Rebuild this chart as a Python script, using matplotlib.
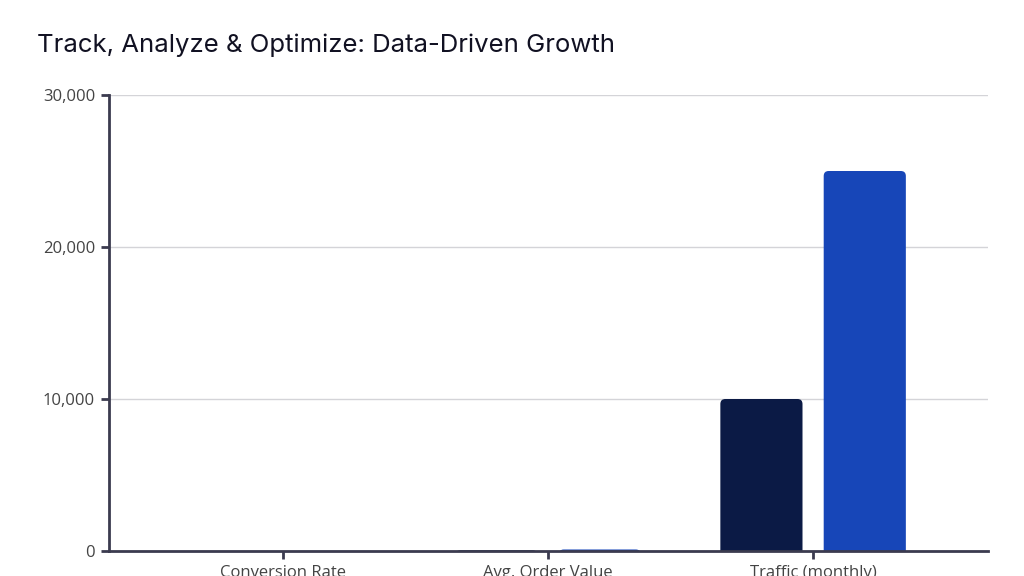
import matplotlib
matplotlib.use("Agg")
import matplotlib.pyplot as plt
from matplotlib.patches import FancyBboxPatch
from matplotlib.ticker import FuncFormatter
import numpy as np

categories = ["Conversion Rate", "Avg. Order Value", "Traffic (monthly)"]
baseline = [2.5, 50, 10000]
optimized = [3.5, 100, 25000]
series_colors = ["#0b1a45", "#1746b8"]

fig = plt.figure(figsize=(10.24, 5.76), dpi=100)
ax = fig.add_axes([109 / 1024, 1 - 551 / 576, 879 / 1024, 456 / 576])

x = np.arange(len(categories))
width = 0.31
offset = 0.195
ymax = 30000
xlim = (-0.657, 2.66)

ax.set_xlim(*xlim)
ax.set_ylim(0, ymax)

# rounded corners: radius in pixels converted to data units
px_x = (xlim[1] - xlim[0]) / 879
px_y = ymax / 456
r = 5
for vals, col, sign in [(baseline, series_colors[0], -1), (optimized, series_colors[1], 1)]:
    bars = ax.bar(x + sign * offset, vals, width=width, color=col, zorder=3)
    for b in bars:
        b.set_visible(False)
        h = b.get_height()
        box = FancyBboxPatch((b.get_x(), -r * px_y), b.get_width(), h + r * px_y,
                             boxstyle="round,pad=0,rounding_size=%f" % (r * px_x),
                             mutation_aspect=px_y / px_x,
                             facecolor=col, edgecolor="none", zorder=3, clip_on=True)
        ax.add_patch(box)

ax.set_yticks([0, 10000, 20000, 30000])
ax.yaxis.set_major_formatter(FuncFormatter(lambda v, p: "{:,.0f}".format(v)))
ax.set_xticks(x)
ax.set_xticklabels(categories)

ax.grid(axis="y", color="#d4d4d8", linewidth=1, zorder=0)
ax.set_axisbelow(True)
for s in ["top", "right"]:
    ax.spines[s].set_visible(False)
for s in ["left", "bottom"]:
    ax.spines[s].set_color("#3b3b4f")
    ax.spines[s].set_linewidth(2)
    ax.spines[s].set_zorder(4)

ax.tick_params(axis="both", colors="#3b3b4f", width=2, length=6, labelsize=12,
               labelcolor="#444444", pad=4)
for lab in ax.get_xticklabels() + ax.get_yticklabels():
    lab.set_family("Open Sans")

fig.text(37 / 1024, 1 - 45 / 576, "Track, Analyze & Optimize: Data-Driven Growth",
         fontsize=18.5, family="Inter", color="#111122", va="center", ha="left")

fig.savefig("out.png", dpi=100)
